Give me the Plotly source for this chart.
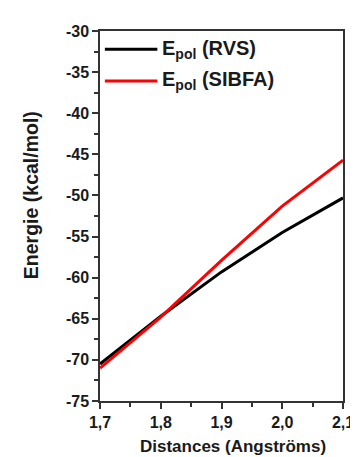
import plotly.graph_objects as go

distances = [1.7, 1.8, 1.9, 2.0, 2.1]
epol_rvs = [-70.5, -64.7, -59.3, -54.5, -50.3]
epol_sibfa = [-71.0, -64.8, -57.9, -51.3, -45.7]
series_names = ["E<sub>pol</sub> (RVS)", "E<sub>pol</sub> (SIBFA)"]
series_colors = ["black", "#ff0000"]
x_ticks = [1.7, 1.8, 1.9, 2.0, 2.1]
x_ticklabels = ["1,7", "1,8", "1,9", "2,0", "2,1"]
y_ticks = [-75, -70, -65, -60, -55, -50, -45, -40, -35, -30]
y_ticklabels = ["-75", "-70", "-65", "-60", "-55", "-50", "-45", "-40", "-35", "-30"]
x_title = "Distances (Angströms)"
y_title = "Energie (kcal/mol)"

font_family = "Liberation Sans, Arial, sans-serif"
txt = "#1a1a1a"

fig = go.Figure()
for vals, name, col in zip([epol_rvs, epol_sibfa], series_names, series_colors):
    fig.add_trace(go.Scatter(x=distances, y=vals, mode="lines", name=name,
                             line=dict(color=col, width=3), showlegend=False))

# manual legend (longer line samples, as in the reference)
legend_y = [0.951, 0.865]
for name, col, ly in zip(series_names, series_colors, legend_y):
    fig.add_shape(type="line", xref="paper", yref="paper",
                  x0=0.02, x1=0.236, y0=ly, y1=ly,
                  line=dict(color=col, width=3))
    fig.add_annotation(xref="paper", yref="paper", x=0.245, y=ly,
                       xanchor="left", yanchor="middle", showarrow=False,
                       text="<b>" + name + "</b>",
                       font=dict(size=20, family=font_family, color=txt))

# axis titles
fig.add_annotation(xref="paper", yref="paper", x=0.547, y=-0.122,
                   xanchor="center", yanchor="middle", showarrow=False,
                   text="<b>" + x_title + "</b>",
                   font=dict(size=17, family=font_family, color=txt))
fig.add_annotation(xref="paper", yref="paper", x=-0.283, y=0.557,
                   xanchor="center", yanchor="middle", showarrow=False,
                   textangle=-90,
                   text="<b>" + y_title + "</b>",
                   font=dict(size=19.5, family=font_family, color=txt))

fig.update_layout(
    width=358, height=457,
    margin=dict(l=92, r=13, t=23, b=64),
    paper_bgcolor="white", plot_bgcolor="white",
    font=dict(family=font_family, color=txt),
    showlegend=False,
)
fig.update_xaxes(
    range=[1.7, 2.1], tickvals=x_ticks,
    ticktext=["<b>" + t + "</b>" for t in x_ticklabels],
    ticks="outside", ticklen=6, tickwidth=1.5, tickcolor="#333333",
    showline=True, linecolor="#333333", linewidth=1.5, mirror=True,
    showgrid=False, zeroline=False,
    tickfont=dict(size=16, family=font_family, color=txt),
    minor=dict(dtick=0.05, tick0=1.7, ticks="outside", ticklen=4, tickcolor="#333333", showgrid=False),
)
fig.update_yaxes(
    range=[-75, -30], tickvals=y_ticks,
    ticktext=["<b>" + t + "</b>" for t in y_ticklabels],
    ticks="outside", ticklen=6, tickwidth=1.5, tickcolor="#333333",
    showline=True, linecolor="#333333", linewidth=1.5, mirror=True,
    showgrid=False, zeroline=False,
    tickfont=dict(size=16, family=font_family, color=txt),
    minor=dict(dtick=2.5, tick0=-75, ticks="outside", ticklen=4, tickcolor="#333333", showgrid=False),
)
fig.write_html("out.html")
